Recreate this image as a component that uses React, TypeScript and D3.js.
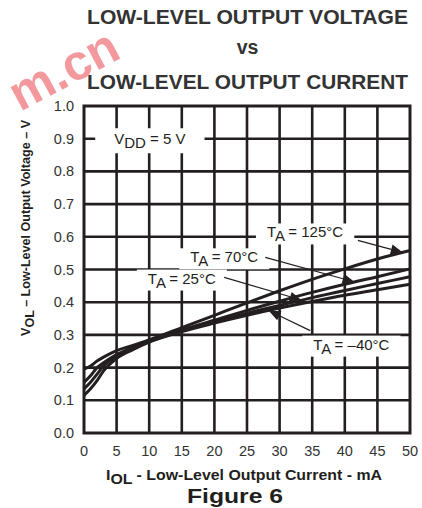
import React, { useEffect, useRef } from "react";
import * as d3 from "d3";

// ─── Data ────────────────────────────────────────────────────────────────────
const IOL = [0, 1, 2, 3, 5, 7.5, 10, 15, 20, 25, 30, 35, 40, 45, 50];
const VOL_125 = [0.195, 0.205, 0.22, 0.232, 0.252, 0.268, 0.285, 0.322, 0.36, 0.398, 0.435, 0.47, 0.502, 0.532, 0.558];
const VOL_70 = [0.155, 0.175, 0.2, 0.215, 0.24, 0.262, 0.283, 0.315, 0.345, 0.375, 0.403, 0.43, 0.455, 0.478, 0.502];
const VOL_25 = [0.135, 0.155, 0.18, 0.205, 0.235, 0.26, 0.28, 0.312, 0.34, 0.366, 0.39, 0.414, 0.436, 0.457, 0.478];
const VOL_M40 = [0.115, 0.135, 0.16, 0.19, 0.228, 0.255, 0.278, 0.31, 0.336, 0.36, 0.382, 0.402, 0.421, 0.438, 0.455];

const SERIES = [VOL_125, VOL_70, VOL_25, VOL_M40];
const TEMP_LABELS = [" = 125°C", " = 70°C", " = 25°C", " = –40°C"];

const X_TICKS = [0, 5, 10, 15, 20, 25, 30, 35, 40, 45, 50];
const Y_TICKS = [0, 0.1, 0.2, 0.3, 0.4, 0.5, 0.6, 0.7, 0.8, 0.9, 1.0];

// label centre (IOL, VOL baseline), leader start, arrow tip IOL on the curve
const LABEL_POS: [number, number][] = [[33.9, 0.598], [21.5, 0.522], [15.0, 0.457], [41.0, 0.255]];
const LEADER_FROM: [number, number][] = [[42.0, 0.589], [27.8, 0.537], [21.5, 0.476], [34.7, 0.313]];
const ARROW_AT = [48.9, 41.5, 33.4, 28.3];

// ─── Design tokens ────────────────────────────────────────────────────────────
const W = 422;
const H = 508;
const PLOT = { left: 84, right: 410, top: 106, bottom: 433 };
const INK = "#231f20";
const FONT = "'Liberation Sans', Arial, Helvetica, sans-serif";

function valueAt(xs: number[], ys: number[], x: number) {
  const i = Math.max(1, d3.bisectLeft(xs, x));
  const t = (x - xs[i - 1]) / (xs[i] - xs[i - 1]);
  return ys[i - 1] + t * (ys[i] - ys[i - 1]);
}

export default function App() {
  const svgRef = useRef<SVGSVGElement>(null);

  useEffect(() => {
    const node = svgRef.current;
    if (!node) return;
    const svg = d3.select(node);
    svg.selectAll("*").remove();

    const x = d3.scaleLinear().domain([0, 50]).range([PLOT.left, PLOT.right]);
    const y = d3.scaleLinear().domain([0, 1]).range([PLOT.bottom, PLOT.top]);

    // ── Watermark ─────────────────────────────────────────────────────────
    svg.append("text")
      .attr("transform", "translate(20,112) rotate(-28)")
      .attr("font-family", FONT)
      .attr("font-weight", "bold")
      .attr("font-size", 50)
      .attr("fill", "#e8333c")
      .attr("fill-opacity", 0.5)
      .text("m.cn");

    // ── Title ─────────────────────────────────────────────────────────────
    const title = [["LOW-LEVEL OUTPUT VOLTAGE", 24, 321], ["vs", 54, 0], ["LOW-LEVEL OUTPUT CURRENT", 89, 321]] as const;
    title.forEach(([t, by, len]) => {
      const el = svg.append("text")
        .attr("x", 247.5).attr("y", by)
        .attr("text-anchor", "middle")
        .attr("font-family", FONT).attr("font-weight", "bold").attr("font-size", 19.5)
        .attr("fill", "#333")
        .text(t);
      if (len) el.attr("textLength", len).attr("lengthAdjust", "spacingAndGlyphs");
    });

    // ── Grid ──────────────────────────────────────────────────────────────
    const grid = svg.append("g").attr("stroke", INK).attr("stroke-width", 2.6);
    grid.selectAll("line.v")
      .data(X_TICKS.slice(1, -1))
      .join("line")
      .attr("class", "v")
      .attr("x1", (d) => x(d)).attr("x2", (d) => x(d))
      .attr("y1", PLOT.top).attr("y2", PLOT.bottom);
    grid.selectAll("line.h")
      .data(Y_TICKS.slice(1, -1))
      .join("line")
      .attr("class", "h")
      .attr("x1", PLOT.left).attr("x2", PLOT.right)
      .attr("y1", (d) => y(d)).attr("y2", (d) => y(d));

    // ── Labels (white boxes break the grid) ──────────────────────────────
    const ann = svg.append("g").attr("font-family", FONT).attr("font-size", 15).attr("fill", INK);

    const addLabel = (cx: number, by: number, pre: string, sub: string, post: string, padX: number, padY: number) => {
      const box = ann.append("rect").attr("fill", "#fff");
      const t = ann.append("text").attr("x", cx).attr("y", by).attr("text-anchor", "middle");
      t.append("tspan").text(pre);
      t.append("tspan").attr("dy", 4).text(sub);
      t.append("tspan").attr("dy", -4).text(post);
      const bb = (t.node() as SVGTextElement).getBBox();
      box.attr("x", bb.x - padX).attr("y", bb.y - padY)
        .attr("width", bb.width + padX * 2).attr("height", bb.height + padY * 2);
    };

    addLabel(x(10.1), y(0.883), "V", "DD", " = 5 V", 19, 2);
    SERIES.forEach((_, i) => {
      addLabel(x(LABEL_POS[i][0]), y(LABEL_POS[i][1]), "T", "A", TEMP_LABELS[i], 11, 0);
    });

    // ── Curves ────────────────────────────────────────────────────────────
    const line = d3.line<number>()
      .x((_, i) => x(IOL[i]))
      .y((d) => y(d))
      .curve(d3.curveMonotoneX);

    svg.append("g")
      .selectAll("path")
      .data(SERIES)
      .join("path")
      .attr("d", (d) => line(d))
      .attr("fill", "none")
      .attr("stroke", INK)
      .attr("stroke-width", 3);

    // ── Leader lines with arrowheads ──────────────────────────────────────
    SERIES.forEach((vals, i) => {
      const x0 = x(LEADER_FROM[i][0]);
      const y0 = y(LEADER_FROM[i][1]);
      const tx = x(ARROW_AT[i]);
      const ty = y(valueAt(IOL, vals, ARROW_AT[i]));
      const len = Math.hypot(tx - x0, ty - y0);
      const ux = (tx - x0) / len;
      const uy = (ty - y0) / len;
      const L = 12;
      const hw = 5;
      const bx = tx - ux * L;
      const by = ty - uy * L;
      svg.append("line")
        .attr("x1", x0).attr("y1", y0).attr("x2", bx).attr("y2", by)
        .attr("stroke", INK).attr("stroke-width", 1.2);
      svg.append("path")
        .attr("d", `M${tx},${ty}L${bx - uy * hw},${by + ux * hw}L${bx + uy * hw},${by - ux * hw}Z`)
        .attr("fill", INK);
    });

    // ── Frame ─────────────────────────────────────────────────────────────
    svg.append("rect")
      .attr("x", PLOT.left).attr("y", PLOT.top)
      .attr("width", PLOT.right - PLOT.left).attr("height", PLOT.bottom - PLOT.top)
      .attr("fill", "none").attr("stroke", INK).attr("stroke-width", 3);

    // ── Tick labels ───────────────────────────────────────────────────────
    const ticks = svg.append("g").attr("font-family", FONT).attr("font-size", 14.5).attr("fill", "#333");
    ticks.selectAll("text.y")
      .data(Y_TICKS)
      .join("text")
      .attr("class", "y")
      .attr("x", 74)
      .attr("y", (d) => y(d) + 5)
      .attr("text-anchor", "end")
      .text((d) => d3.format(".1f")(d));
    ticks.selectAll("text.x")
      .data(X_TICKS)
      .join("text")
      .attr("class", "x")
      .attr("x", (d) => x(d))
      .attr("y", 456)
      .attr("text-anchor", "middle")
      .text((d) => String(d));

    // ── Axis titles ───────────────────────────────────────────────────────
    const xt = svg.append("text")
      .attr("x", 244).attr("y", 480)
      .attr("text-anchor", "middle")
      .attr("font-family", FONT).attr("font-weight", "bold").attr("font-size", 14)
      .attr("fill", INK)
      .attr("textLength", 276).attr("lengthAdjust", "spacingAndGlyphs");
    xt.append("tspan").text("I");
    xt.append("tspan").attr("dy", 3.5).text("OL");
    xt.append("tspan").attr("dy", -3.5).text(" - Low-Level Output Current - mA");

    const yt = svg.append("text")
      .attr("transform", "translate(30,228) rotate(-90)")
      .attr("text-anchor", "middle")
      .attr("font-family", FONT).attr("font-weight", "bold").attr("font-size", 13.5)
      .attr("fill", INK)
      .attr("textLength", 216).attr("lengthAdjust", "spacingAndGlyphs");
    yt.append("tspan").text("V");
    yt.append("tspan").attr("dy", 3.5).text("OL");
    yt.append("tspan").attr("dy", -3.5).text(" – Low-Level Output Voltage – V");

    svg.append("text")
      .attr("x", 235).attr("y", 503)
      .attr("text-anchor", "middle")
      .attr("font-family", FONT).attr("font-weight", "bold").attr("font-size", 20)
      .attr("fill", INK)
      .attr("textLength", 96).attr("lengthAdjust", "spacingAndGlyphs")
      .text("Figure 6");
  }, []);

  return (
    <svg
      ref={svgRef}
      width={W}
      height={H}
      style={{ position: "absolute", left: 0, top: 0, background: "#fff" }}
    />
  );
}
